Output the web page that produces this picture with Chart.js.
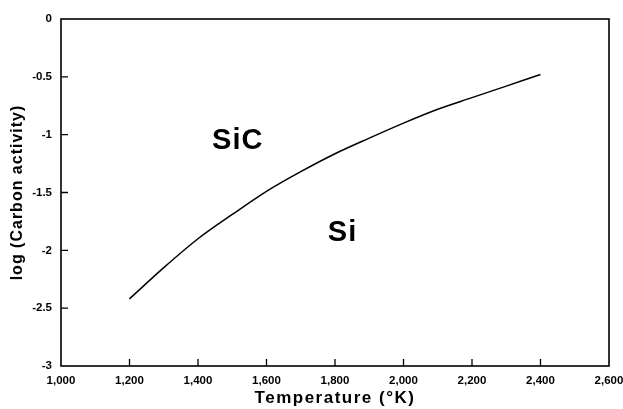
<!DOCTYPE html>
<html>
<head>
<meta charset="utf-8">
<script src="https://cdn.jsdelivr.net/npm/chart.js@4"></script>
<style>
  html, body { margin: 0; padding: 0; background: #fff; }
  #wrap { width: 623px; height: 409px; }
</style>
</head>
<body>
<div id="wrap"><canvas id="phaseChart"></canvas></div>
<script>
// boundary between SiC and Si fields
const temperatures = [1200, 1300, 1400, 1500, 1600, 1700, 1800, 1900, 2000, 2100, 2200, 2300, 2400];
const logActivity = [-2.42, -2.15, -1.90, -1.69, -1.49, -1.32, -1.165, -1.03, -0.90, -0.78, -0.68, -0.58, -0.48];
const xTicks = [1000, 1200, 1400, 1600, 1800, 2000, 2200, 2400, 2600];
const yTicks = [0, -0.5, -1, -1.5, -2, -2.5, -3];
const fieldLabels = ['SiC', 'Si'];
const xTitle = 'Temperature (°K)';
const yTitle = 'log (Carbon activity)';

const FONT = '"Liberation Sans", Arial, sans-serif';

// box frame, inward ticks, axis titles and field labels
const framePlugin = {
    id: 'frame',
    afterDraw(chart) {
        const ctx = chart.ctx;
        const a = chart.chartArea;
        const xs = chart.scales.x, ys = chart.scales.y;
        ctx.save();
        ctx.strokeStyle = '#000';
        ctx.lineWidth = 1.6;
        ctx.strokeRect(a.left, a.top, a.right - a.left, a.bottom - a.top);
        ctx.lineWidth = 1.3;
        ctx.beginPath();
        xTicks.slice(1, -1).forEach(function(v) {
            const px = xs.getPixelForValue(v);
            ctx.moveTo(px, a.bottom);
            ctx.lineTo(px, a.bottom - 7);
        });
        yTicks.slice(1, -1).forEach(function(v) {
            const py = ys.getPixelForValue(v);
            ctx.moveTo(a.left, py);
            ctx.lineTo(a.left + 7, py);
        });
        ctx.stroke();

        ctx.fillStyle = '#000';
        ctx.textAlign = 'center';
        ctx.textBaseline = 'middle';

        ctx.letterSpacing = '1px';
        ctx.font = 'bold 29px ' + FONT;
        ctx.fillText(fieldLabels[0], xs.getPixelForValue(1516), ys.getPixelForValue(-1.055));
        ctx.fillText(fieldLabels[1], xs.getPixelForValue(1822), ys.getPixelForValue(-1.85));

        ctx.letterSpacing = '1.5px';
        ctx.font = 'bold 17px ' + FONT;
        ctx.fillText(xTitle, (a.left + a.right) / 2, 398);

        ctx.letterSpacing = '1px';
        ctx.font = 'bold 16px ' + FONT;
        ctx.translate(18, (a.top + a.bottom) / 2);
        ctx.rotate(-Math.PI / 2);
        ctx.fillText(yTitle, 0, 0);
        ctx.restore();
    }
};

new Chart(document.getElementById('phaseChart').getContext('2d'), {
    type: 'scatter',
    data: {
        datasets: [{
            data: temperatures.map(function(t, i) { return { x: t, y: logActivity[i] }; }),
            showLine: true,
            borderColor: '#000',
            borderWidth: 1.5,
            pointRadius: 0,
            tension: 0.4,
            cubicInterpolationMode: 'monotone'
        }]
    },
    options: {
        responsive: true,
        maintainAspectRatio: false,
        animation: false,
        layout: { padding: { top: 19, right: 14, left: 0, bottom: 0 } },
        plugins: {
            legend: { display: false },
            tooltip: { enabled: false }
        },
        scales: {
            x: {
                type: 'linear',
                min: 1000,
                max: 2600,
                afterBuildTicks: function(scale) {
                    scale.ticks = xTicks.map(function(v) { return { value: v }; });
                },
                afterFit: function(scale) {
                    scale.height = 43;
                    scale.paddingLeft = 0;
                    scale.paddingRight = 0;
                },
                grid: { display: false, drawTicks: false },
                border: { display: false },
                ticks: {
                    color: '#000',
                    padding: 8,
                    maxRotation: 0,
                    font: { family: FONT, size: 11.5, weight: 'bold' },
                    callback: function(v) { return v.toLocaleString('en-US'); }
                }
            },
            y: {
                type: 'linear',
                min: -3,
                max: 0,
                afterBuildTicks: function(scale) {
                    scale.ticks = yTicks.map(function(v) { return { value: v }; });
                },
                afterFit: function(scale) {
                    scale.width = 61;
                    scale.paddingTop = 0;
                    scale.paddingBottom = 0;
                },
                grid: { display: false, drawTicks: false },
                border: { display: false },
                ticks: {
                    color: '#000',
                    padding: 9,
                    font: { family: FONT, size: 11.5, weight: 'bold' },
                    callback: function(v) { return String(v); }
                }
            }
        }
    },
    plugins: [framePlugin]
});
</script>
</body>
</html>
